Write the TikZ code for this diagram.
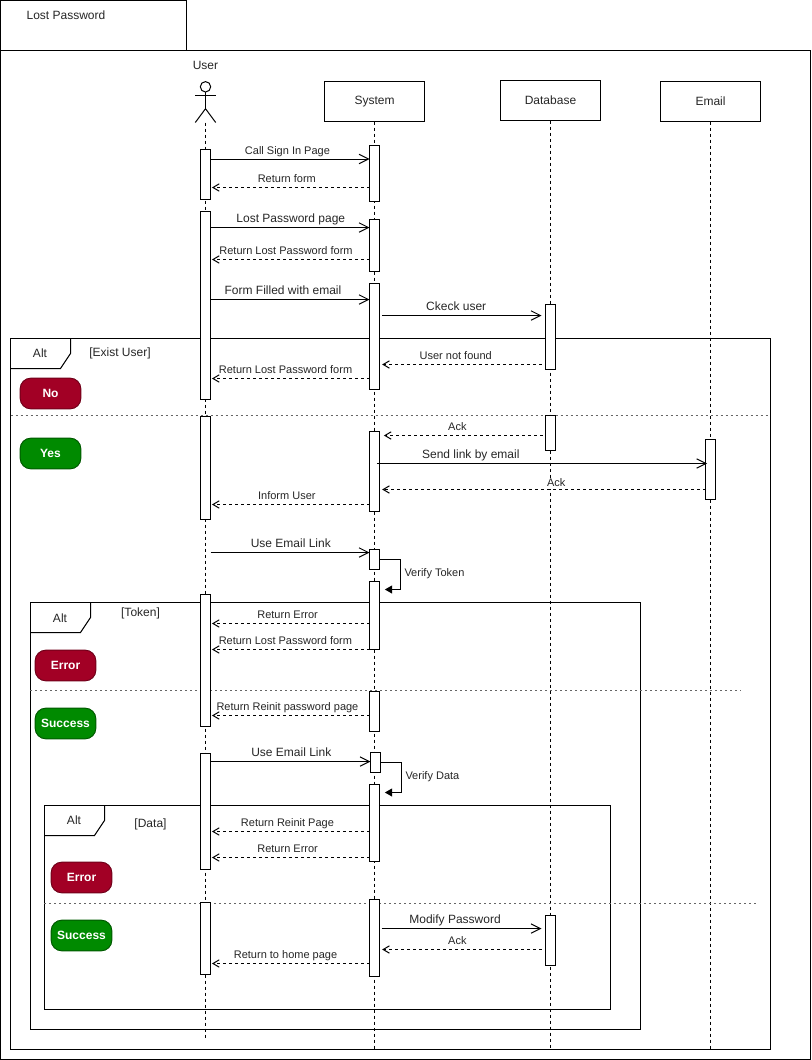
\documentclass[tikz,border=0pt]{standalone}
\usepackage{fontspec}
\setmainfont{Liberation Sans}
\usetikzlibrary{arrows.meta, positioning}
\definecolor{nored}{HTML}{A20025}
\definecolor{nogreen}{HTML}{008A00}
\tikzset{
every node/.style={font=\fontsize{9}{11}\selectfont, text=black!85, inner sep=0pt, outer sep=0pt}, % 12px text
lifebox/.style={draw, fill=white, minimum width=75pt, minimum height=30pt}, % heads of the lifelines
bar/.style={draw, fill=white, minimum width=7.5pt, minimum height=#1*0.75pt, anchor=north}, % activation bars, height in px
pill/.style={draw, rounded corners=8pt, minimum width=45.5pt, minimum height=23pt, text=white, font=\fontsize{9}{11}\selectfont\bfseries},
pillred/.style={pill, fill=nored, draw=nored!70!black},
pillgreen/.style={pill, fill=nogreen, draw=nogreen!65!black},
lifeline/.style={dashed, dash pattern=on 2.25pt off 2.25pt},
divider/.style={dash pattern=on 1.5pt off 2.25pt, draw=black!60},
call/.style={-{Straight Barb[length=7pt, width=7pt]}}, % solid message
ret/.style={dash pattern=on 2.25pt off 2.25pt, -{Straight Barb[length=4.7pt, width=5.5pt]}, shorten >=1.1pt}, % dashed answer
selfcall/.style={-{Triangle[length=5.5pt, width=6pt]}, shorten >=4pt},
msg/.style={above=2.5pt, text height=6pt, text depth=1.5pt, font=\fontsize{8.25}{10}\selectfont}, % 11px label
msgbig/.style={msg, font=\fontsize{9}{11}\selectfont}, % 12px label
}

\begin{document}
\begin{tikzpicture}[x=0.75pt, y=-0.75pt, line width=0.75pt]
    \useasboundingbox (0,0) rectangle (811,1060);

    % outer frame
    \draw (0.5,50.5) rectangle (810.5,1059.5);
    \draw (0.5,50.5) rectangle (186.5,0.5);
    \node (title) at (66,15) {Lost Password};

    % alt frames
    \draw (10.5,338.5) rectangle (770.5,1049.5);
    \draw (10.5,368.5) -- (60.5,368.5) -- (70.5,353.5) -- (70.5,338.5);
    \node (alt1) at (40,353.5) {Alt};
    \node (cond1) at (120,353.5) {[Exist User]};
    \draw (30.5,602.5) rectangle (640.5,1029.5);
    \draw (30.5,632.5) -- (80.5,632.5) -- (90.5,617.5) -- (90.5,602.5);
    \node (alt2) at (60,618) {Alt};
    \node (cond2) at (140.5,613.5) {[Token]};
    \draw (44.5,805.5) rectangle (610.5,1009.5);
    \draw (44.5,835.5) -- (94.5,835.5) -- (104.5,820.5) -- (104.5,805.5);
    \node (alt3) at (74,820.5) {Alt};
    \node (cond3) at (150.5,824.5) {[Data]};

    % actor
    \node (user) at (205.5,65.5) {User};
    \node[draw, circle, minimum size=7.8pt] (head) at (205.5,86.8) {};
    \coordinate (hip) at (205.5,108.7);
    \coordinate (foot) at (205.5,122.5);
    \draw (head.south) -- (hip);
    \draw (195.3,95) -- (215.7,95);
    \draw (195.3,122.5) -- (hip) -- (215.7,122.5);

    % lifelines
    \node[lifebox] (system) at (374.5,101.5) {System};
    \node[lifebox, right=57pt of system, yshift=0.75pt] (database) {Database};
    \node[lifebox, right=45pt of database, yshift=-0.75pt] (email) {Email};
    \coordinate (userend) at (205.5,1037.5);
    \coordinate (systemend) at (374.5,1049.5);
    \coordinate (databaseend) at (550.5,1049.5);
    \coordinate (emailend) at (710.5,1049.5);
    \draw[lifeline] (foot) -- (userend);
    \draw[lifeline] (system) -- (systemend);
    \draw[lifeline] (database) -- (databaseend);
    \draw[lifeline] (email) -- (emailend);

    % dividers of the alt frames
    \coordinate (div1a) at (10.5,415);
    \coordinate (div1b) at (770,415);
    \coordinate (div2a) at (30,690);
    \coordinate (div2b) at (741,690);
    \coordinate (div3a) at (44,903);
    \coordinate (div3b) at (755.5,903);
    \draw[divider] (div1a) -- (div1b);
    \draw[divider] (div2a) -- (div2b);
    \draw[divider] (div3a) -- (div3b);

    % answers
    \node[pillred] (no) at (50.5,393.5) {No};
    \node[pillgreen] (yes) at (50.5,453.5) {Yes};
    \node[pillred] (error1) at (65.5,665.5) {Error};
    \node[pillgreen] (success1) at (65.5,723.5) {Success};
    \node[pillred] (error2) at (81.5,877.5) {Error};
    \node[pillgreen] (success2) at (81.5,935.5) {Success};

    % activation bars
    \node[bar=50] (u1) at (205.5,149.5) {};
    \node[bar=188] (u2) at (205.5,211.5) {};
    \node[bar=103] (u3) at (205.5,416) {};
    \node[bar=132] (u4) at (205.5,594.5) {};
    \node[bar=116] (u5) at (205.5,753.5) {};
    \node[bar=72] (u6) at (205.5,902.5) {};
    \node[bar=56] (s1) at (374.5,145.5) {};
    \node[bar=52] (s2) at (374.5,219.5) {};
    \node[bar=106] (s3) at (374.5,283.5) {};
    \node[bar=80] (s4) at (374.5,431.5) {};
    \node[bar=20] (s5) at (374.5,549.5) {};
    \node[bar=68] (s6) at (374.5,581.5) {};
    \node[bar=40] (s7) at (374.5,691.5) {};
    \node[bar=20] (s8) at (375.5,752.5) {};
    \node[bar=77] (s9) at (374.5,784.5) {};
    \node[bar=77] (s10) at (374.5,899.5) {};
    \node[bar=65] (d1) at (550.5,304.5) {};
    \node[bar=35] (d2) at (550.5,415.5) {};
    \node[bar=50] (d3) at (550.5,915.5) {};
    \node[bar=60] (e1) at (710.5,439.5) {};

    % messages
    \draw[call] (u1.east |- 0,159) -- node[msg, pos=.484, above=1.7pt] {Call Sign In Page} (s1.west |- 0,159);
    \draw[ret] (s1.west |- 0,187.5) -- node[msg, pos=.52] {Return form} (u1.east |- 0,187.5);
    \draw[call] (u2.east |- 0,227.5) -- node[msgbig, pos=.505] {Lost Password page} (s2.west |- 0,227.5);
    \draw[ret] (s2.west |- 0,259.5) -- node[msg, pos=.525] {Return Lost Password form} (u2.east |- 0,259.5);
    \draw[call] (u2.east |- 0,299.5) -- node[msgbig, pos=.456] {Form Filled with email} (s3.west |- 0,299.5);
    \draw[call, shorten <=2pt, shorten >=3pt] (s3.east |- 0,315.5) -- node[msgbig, pos=.462] {Ckeck user} (d1.west |- 0,315.5);
    \draw[ret, shorten >=2pt, shorten <=3pt] (d1.west |- 0,364.5) -- node[msg, pos=.541] {User not found} (s3.east |- 0,364.5);
    \draw[ret] (s3.west |- 0,378.5) -- node[msg, pos=.528] {Return Lost Password form} (u2.east |- 0,378.5);
    \draw[ret, shorten >=3.3pt, shorten <=2pt] (d2.west |- 0,435.5) -- node[msg, pos=.531] {Ack} (s4.east |- 0,435.5);
    \draw[call, shorten <=-1.9pt, shorten >=-1.2pt] (s4.east |- 0,463.5) -- node[msgbig, pos=.28] {Send link by email} (e1.west |- 0,463.5);
    \draw[ret, shorten >=2pt] (e1.west |- 0,489.5) -- node[msg, pos=.458, fill=white, above=0.4pt] {Ack} (s4.east |- 0,489.5);
    \draw[ret] (s4.west |- 0,504.5) -- node[msg, pos=.52] {Inform User} (u3.east |- 0,504.5);
    \draw[call] (u3.east |- 0,552.5) -- node[msgbig, pos=.505] {Use Email Link} (s5.west |- 0,552.5);
    \draw[selfcall] (s5.east |- 0,559.5) -- ++(21,0) -- node[msg, pos=.45, above=0pt, anchor=west, xshift=3pt] {Verify Token} ++(0,30) -- (s6.east |- 0,589.5);
    \draw[ret] (s6.west |- 0,623.5) -- node[msg, pos=.515] {Return Error} (u4.east |- 0,623.5);
    \draw[ret] (s6.west |- 0,649.5) -- node[msg, pos=.529] {Return Lost Password form} (u4.east |- 0,649.5);
    \draw[ret] (s7.west |- 0,715.5) -- node[msg, pos=.516] {Return Reinit password page} (u4.east |- 0,715.5);
    \draw[call] (u5.east |- 0,761.5) -- node[msgbig, pos=.505] {Use Email Link} (s8.west |- 0,761.5);
    \draw[selfcall] (s8.east |- 0,762.5) -- ++(21,0) -- node[msg, pos=.45, above=0pt, anchor=west, xshift=3pt] {Verify Data} ++(0,30) -- (s9.east |- 0,792.5);
    \draw[ret] (s9.west |- 0,831.5) -- node[msg, pos=.516] {Return Reinit Page} (u5.east |- 0,831.5);
    \draw[ret] (s9.west |- 0,857.5) -- node[msg, pos=.515] {Return Error} (u5.east |- 0,857.5);
    \draw[call, shorten <=1.5pt, shorten >=3pt] (s10.east |- 0,928.5) -- node[msgbig, pos=.455] {Modify Password} (d3.west |- 0,928.5);
    \draw[ret, shorten >=2pt, shorten <=3pt] (d3.west |- 0,949.5) -- node[msg, pos=.531] {Ack} (s10.east |- 0,949.5);
    \draw[ret] (s10.west |- 0,963.5) -- node[msg, pos=.528] {Return to home page} (u6.east |- 0,963.5);
\end{tikzpicture}
\end{document}
